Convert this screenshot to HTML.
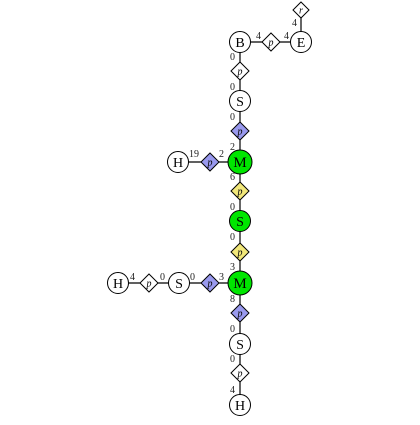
<!DOCTYPE html>
<html><head><meta charset="utf-8"><style>
html,body{margin:0;padding:0;background:#fff;}
svg text{font-family:"Liberation Serif",serif;}
</style></head><body>
<svg width="420" height="420" viewBox="0 0 420 420" xmlns="http://www.w3.org/2000/svg">
<g stroke="#000" stroke-width="1.2">
<line x1="240" y1="42" x2="240" y2="405"/>
<line x1="240" y1="42" x2="301" y2="42"/>
<line x1="301" y1="10" x2="301" y2="42"/>
<line x1="178" y1="162" x2="240" y2="162"/>
<line x1="118" y1="283" x2="240" y2="283"/>
</g>
<g id="nodes"></g>
<g id="labels" font-size="10" fill="#222"></g>
</svg>
<script>
const nodes=[
['circle','B',240,42,'#fff',10.5],['diamond','p',240,71,'#fff',9],['circle','S',240,101,'#fff',10.5],
['diamond','p',240,131,'#9999ee',9],['circle','M',240,162,'#00e600',12],['diamond','p',240,191,'#f2e87a',9],
['circle','S',240,221,'#00e600',10.5],['diamond','p',240,252,'#f2e87a',9],['circle','M',240,283,'#00e600',12],
['diamond','p',240,313,'#9999ee',9],['circle','S',240,344,'#fff',10.5],['diamond','p',240,373,'#fff',9],
['circle','H',240,405,'#fff',10.5],
['diamond','p',271,42,'#fff',9],['circle','E',301,42,'#fff',10.5],['diamond','r',301,10,'#fff',8],
['diamond','p',210,162,'#9999ee',9],['circle','H',178,162,'#fff',10.5],
['diamond','p',210,283,'#9999ee',9],['circle','S',179,283,'#fff',10.5],['diamond','p',149,283,'#fff',9],['circle','H',118,283,'#fff',10.5]
];
const labels=[['4',256,39],['4',284,39],['4',292,26],['0',230,60],['0',230,90],['0',230,120],['2',230,150],
['19',189,157],['2',219,157],['6',230,180],['0',230,210],['0',230,240],['3',230,270],['4',130,280],['0',160,280],
['0',190,280],['3',219,280],['8',230,302],['0',230,332],['0',230,362],['4',230,393]];
const ns='http://www.w3.org/2000/svg';
const g=document.getElementById('nodes');
nodes.forEach(n=>{
 const [t,l,x,y,f,r]=n;
 let s;
 if(t==='circle'){s=document.createElementNS(ns,'circle');s.setAttribute('cx',x);s.setAttribute('cy',y);s.setAttribute('r',r);}
 else{s=document.createElementNS(ns,'polygon');s.setAttribute('points',`${x},${y-r} ${x+r},${y} ${x},${y+r} ${x-r},${y}`);}
 s.setAttribute('fill',f);s.setAttribute('stroke','#000');s.setAttribute('stroke-width','1');
 
 
 g.appendChild(s);
 const tx=document.createElementNS(ns,'text');
 tx.setAttribute('x',x);tx.setAttribute('y',t==='circle'?y+5:y+3.5);tx.setAttribute('text-anchor','middle');
 tx.setAttribute('font-size',t==='circle'?(l==='M'?15:14):10);
 if(t!=='circle')tx.setAttribute('font-style','italic');
 tx.textContent=l;
 
 
 g.appendChild(tx);
});
const lg=document.getElementById('labels');
labels.forEach(([v,x,y])=>{
 const tx=document.createElementNS(ns,'text');
 tx.setAttribute('x',x);tx.setAttribute('y',y);tx.textContent=v;
 
 
 lg.appendChild(tx);
});
</script>
</body></html>
